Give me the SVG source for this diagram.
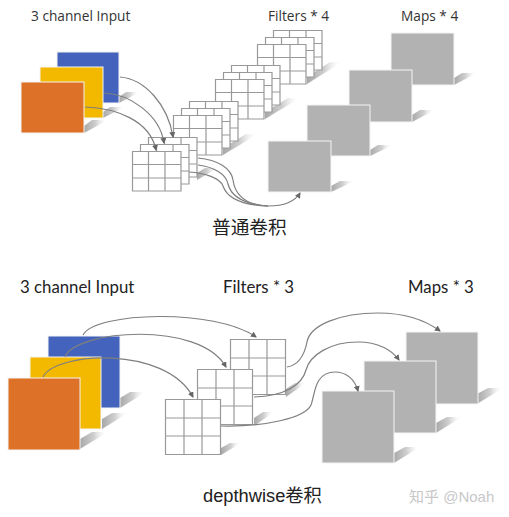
<svg xmlns="http://www.w3.org/2000/svg" width="509" height="517" viewBox="0 0 509 517">
<defs>
<linearGradient id="sh" x1="0" y1="0" x2="1" y2="0"><stop offset="0" stop-color="#a8a8a8"/><stop offset="0.5" stop-color="#d0d0d0"/><stop offset="1" stop-color="#fff" stop-opacity="0"/></linearGradient>
<filter id="bl" x="-20%" y="-20%" width="140%" height="140%"><feGaussianBlur stdDeviation="0.7"/></filter>
<marker id="a" markerWidth="7" markerHeight="7" refX="5" refY="3" orient="auto" markerUnits="userSpaceOnUse"><path d="M0 0L6 3L0 6Z" fill="#666"/></marker>
<g id="g1"><rect width="49" height="40" fill="#fff"/><path d="M.5 .5H49V40H.5ZM16.500 0V40M33 0V40M0 13.500H49M0 27H49" fill="none" stroke="#999" stroke-width="1.200"/></g>
<g id="sm"><use href="#g1" x="16" y="-14"/><use href="#g1" x="8" y="-7"/><use href="#g1"/></g>
<g id="g2"><rect width="56" height="56" fill="#fff"/><path d="M.5 .5H55.500V55.500H.5ZM19 0V56M37 0V56M0 19H56M0 37H56" fill="none" stroke="#999" stroke-width="1.200"/></g>
</defs>
<style>
text{font-family:"Liberation Sans","Noto Sans CJK SC",sans-serif;fill:#222}
.t{font-family:"Open Sans",sans-serif;font-size:13.700px;fill:#333}
.b{font-family:"Lato",sans-serif;font-size:16.800px;fill:#222}
.c{fill:none;stroke:#7f7f7f;stroke-width:1.200}
.e{marker-end:url(#a)}
.w{stroke:#f4f4f4;stroke-width:1}
.gr{fill:#b2b2b2}
.s{fill:url(#sh);filter:url(#bl)}
</style>
<rect width="509" height="517" fill="#fff"/>
<g id="top-labels">
<text class="t" x="31" y="21">3 channel Input</text>
<text class="t" x="268" y="21">Filters * 4</text>
<text class="t" x="401" y="21">Maps * 4</text>
</g>
<g id="top-shadows">
<path class="s" d="M119 103L140 92L126 92L119 97Z"/><path class="s" d="M103 118L125 107L110 107L103 112Z"/><path class="s" d="M84 133L108 120L92 120L84 126Z"/>
<path class="s" d="M197 180L218 168L205 168L197 173Z"/><path class="s" d="M223 155L258 134L246 134L223 148Z"/><path class="s" d="M265 119L300 98L288 98L265 112Z"/><path class="s" d="M307 84L342 62L330 62L307 77Z"/>
<path class="s" d="M331 192L355 181L340 181L331 186Z"/><path class="s" d="M370 156L393 145L378 145L370 150Z"/><path class="s" d="M412 122L435 110L420 110L412 115Z"/><path class="s" d="M454 85L477 73L462 73L454 78Z"/>
</g>
<g id="top-input"><rect class="w" x="57" y="52" width="62" height="51" fill="#4363bd"/><rect class="w" x="40" y="67" width="63" height="51" fill="#f3b800"/><rect class="w" x="21" y="82" width="63" height="51" fill="#dd7127"/></g>
<g id="filters-4"><use href="#sm" x="257" y="44"/></g>
<g id="filters-3"><use href="#sm" x="215" y="79"/></g>
<g id="filters-2"><use href="#sm" x="173" y="115"/></g>
<g id="filters-1"><use href="#sm" x="132" y="151"/></g>
<g id="top-maps"><rect class="gr w" x="391" y="33" width="63" height="52"/><rect class="gr w" x="349" y="70" width="63" height="52"/><rect class="gr w" x="307" y="105" width="63" height="51"/><rect class="gr w" x="268" y="141" width="63" height="51"/></g>
<g id="top-connectors">
<path class="c e" d="M120 77C145 79 168 105 173 137"/>
<path class="c e" d="M104 93C130 94 160 115 164 143"/>
<path class="c e" d="M85 107C115 108 150 120 156 150"/>
<path class="c" d="M198 158C218 160 231 168 233 180C235 194 245 205 268 206"/>
<path class="c" d="M198 165C214 167 226 174 228 184C231 196 242 204 268 206"/>
<path class="c" d="M189 172C205 173 220 178 223 186C227 198 240 205 268 206"/>
<path class="c e" d="M268 206C282 206 294 203 300 193"/>
</g>
<text id="top-caption" x="212" y="234" font-size="18.700">普通卷积</text>
<g id="bottom-labels">
<text class="b" x="20" y="293">3 channel Input</text>
<text class="b" x="223" y="293">Filters * 3</text>
<text class="b" x="408" y="293">Maps * 3</text>
</g>
<g id="bottom-shadows">
<path class="s" d="M120 408L146 392L130 392L120 398Z"/><path class="s" d="M102 429L128 413L112 413L102 419Z"/><path class="s" d="M80 449L108 432L92 432L80 439Z"/>
<path class="s" d="M221 455L241 443L230 443L221 448Z"/><path class="s" d="M254 426L274 412L263 412L254 418Z"/><path class="s" d="M286 397L306 383L295 383L286 389Z"/>
<path class="s" d="M394 463L420 447L405 447L394 453Z"/><path class="s" d="M436 433L462 417L447 417L436 423Z"/><path class="s" d="M477 404L503 388L488 388L477 394Z"/>
</g>
<g id="bottom-input"><rect class="w" x="48" y="336" width="72" height="72" fill="#4363bd"/><rect class="w" x="30" y="357" width="71" height="72" fill="#f3b800"/><rect class="w" x="8" y="378" width="72" height="72" fill="#dd7127"/></g>
<g id="bottom-filter-3"><use href="#g2" x="230" y="339"/></g>
<g id="bottom-filter-2"><use href="#g2" x="197" y="369"/></g>
<g id="bottom-filter-1"><use href="#g2" x="165" y="399"/></g>
<g id="bottom-maps"><rect class="gr w" x="406" y="332" width="72" height="72"/><rect class="gr w" x="364" y="361" width="72" height="72"/><rect class="gr w" x="322" y="391" width="72" height="72"/></g>
<g id="bottom-connectors">
<path class="c e" d="M83 335C95 312 215 308 256 337"/>
<path class="c e" d="M65 357C75 330 200 320 226 367"/>
<path class="c e" d="M43 377C55 352 165 345 193 397"/>
<path class="c e" d="M287 367C300 365 305 352 307 342C310 325 340 313 378 313C405 313 425 320 440 331"/>
<path class="c e" d="M254 397C285 396 302 385 306 370C310 355 330 342 358 342C378 342 392 350 399 360"/>
<path class="c e" d="M221 426C265 427 305 418 311 405C315 395 314 372 335 372C347 372 355 380 358 391"/>
</g>
<text id="bottom-caption" x="203" y="502" font-size="18.300">depthwise卷积</text>
<text id="watermark" x="409" y="502" font-size="15" style="fill:#c8c8c8">知乎 @Noah</text>
</svg>
